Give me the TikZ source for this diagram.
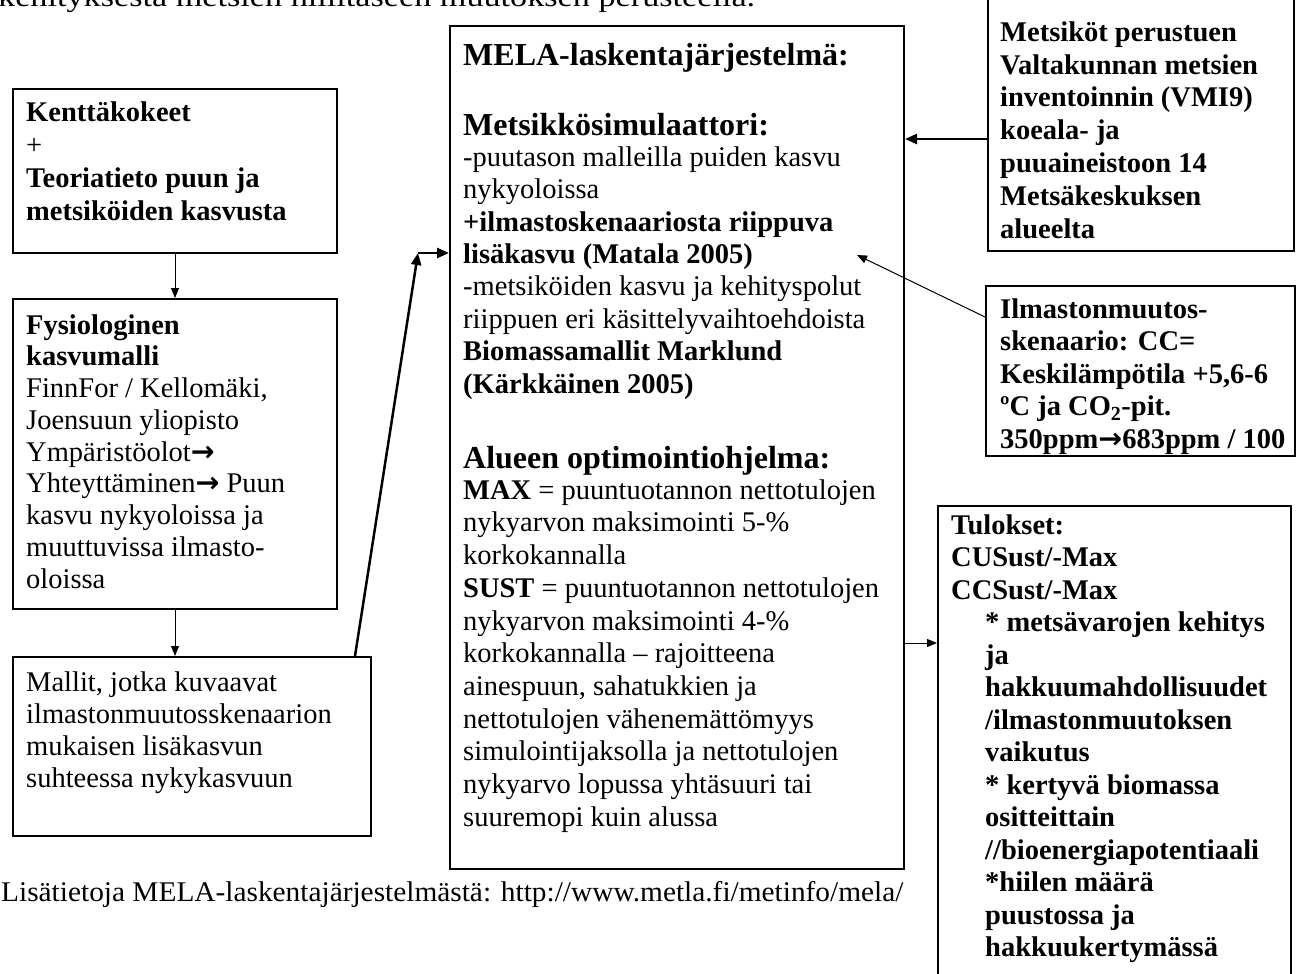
\documentclass[tikz,border=0pt]{standalone}
\usepackage{fontspec}
\setmainfont{Liberation Serif}
\newfontfamily\arrowfont{DejaVu Sans}
\usetikzlibrary{arrows.meta}
\newcommand\rarr{{\arrowfont\bfseries →}}
\newcommand\fst{\rule{0pt}{24pt}}
\begin{document}
\begin{tikzpicture}[x=1pt,y=-1pt,
  box/.style={draw, line width=2pt, anchor=north west, inner sep=0pt},
  txt/.style={anchor=north west, inner sep=0pt, align=left, font=\fontsize{28.5}{32.5}\selectfont},
  head/.style={anchor=north west, inner sep=0pt, align=left, font=\fontsize{32}{35}\selectfont\bfseries},
  thinarr/.style={line width=1pt, -{Triangle[length=10pt,width=8pt]}},
  thickarr/.style={line width=2.5pt, -{Triangle[length=12pt,width=10pt]}}]
\useasboundingbox (0,0) rectangle (1298,974);

% boxes
\node[box, minimum width=324pt, minimum height=164pt] (A) at (12,88) {};
\node[box, minimum width=324pt, minimum height=310pt] (B) at (12,298) {};
\node[box, minimum width=358pt, minimum height=179pt] (C) at (12,656) {};
\node[box, minimum width=454pt, minimum height=843pt] (M) at (449,25) {};
\node[box, minimum width=306pt, minimum height=255pt] (R1) at (987,-5) {};
\node[box, minimum width=309pt, minimum height=170pt] (R2) at (985,285) {};
\node[box, minimum width=353pt, minimum height=480pt] (R3) at (937,505) {};

% texts
\node[anchor=base west, inner sep=0pt, font=\fontsize{28.5}{32.5}\selectfont] (toptext) at (-2,7) {\scalebox{1.2}[1]{kehityksestä metsien hiilitaseen muutoksen perusteella.}};

\node[txt, font=\fontsize{28.5}{33}\selectfont] (Atxt) at (26,97) {\fst\textbf{Kenttäkokeet}\\+\\\textbf{Teoriatieto puun ja}\\\textbf{metsiköiden kasvusta}};

\node[txt, font=\fontsize{28.5}{31.75}\selectfont] (Btxt) at (26,310) {\fst\textbf{Fysiologinen}\\\textbf{kasvumalli}\\FinnFor / Kellomäki,\\Joensuun yliopisto\\Ympäristöolot\rarr\\Yhteyttäminen\rarr{} Puun\\kasvu nykyoloissa ja\\muuttuvissa ilmasto-\\oloissa};

\node[txt, font=\fontsize{28.5}{32}\selectfont] (Ctxt) at (26,667) {\fst Mallit, jotka kuvaavat\\ilmastonmuutosskenaarion\\mukaisen lisäkasvun\\suhteessa nykykasvuun};

\node[head] (M1) at (463,41) {\fst MELA-laskentajärjestelmä:};
\node[head] (M2) at (463,111) {\fst Metsikkösimulaattori:};
\node[txt, font=\fontsize{28.5}{32.4}\selectfont] (M3) at (463,142) {\fst -puutason malleilla puiden kasvu\\nykyoloissa\\\textbf{+ilmastoskenaariosta riippuva}\\\textbf{lisäkasvu (Matala 2005)}\\-metsiköiden kasvu ja kehityspolut\\riippuen eri käsittelyvaihtoehdoista\\\textbf{Biomassamallit Marklund}\\\textbf{(Kärkkäinen 2005)}};
\node[head] (M4) at (463,444) {\fst Alueen optimointiohjelma:};
\node[txt, font=\fontsize{28.5}{32.7}\selectfont] (M5) at (463,475) {\fst\textbf{MAX} = puuntuotannon nettotulojen\\nykyarvon maksimointi 5-\%\\korkokannalla\\\textbf{SUST} = puuntuotannon nettotulojen\\nykyarvon maksimointi 4-\%\\korkokannalla – rajoitteena\\ainespuun, sahatukkien ja\\nettotulojen vähenemättömyys\\simulointijaksolla ja nettotulojen\\nykyarvo lopussa yhtäsuuri tai\\suuremopi kuin alussa};

\node[txt, font=\fontsize{28.5}{32.8}\selectfont\bfseries] (R1txt) at (1000,17) {\fst Metsiköt perustuen\\Valtakunnan metsien\\inventoinnin (VMI9)\\koeala- ja\\puuaineistoon 14\\Metsäkeskuksen\\alueelta};

\node[txt, font=\fontsize{28.5}{32.5}\selectfont\bfseries] (R2txt) at (1000,294) {\fst Ilmastonmuutos-\\skenaario: CC=\\Keskilämpötila +5,6-6\\ºC ja CO\textsubscript{2}-pit.\\350ppm{\arrowfont\bfseries →}683ppm / 100};

\node[txt, font=\fontsize{28.5}{32.5}\selectfont\bfseries] (R3a) at (951,510) {\fst Tulokset:\\CUSust/-Max\\CCSust/-Max};
\node[txt, font=\fontsize{28.5}{32.5}\selectfont\bfseries] (R3b) at (985,607.5) {\fst * metsävarojen kehitys\\ja\\hakkuumahdollisuudet\\/ilmastonmuutoksen\\vaikutus\\* kertyvä biomassa\\ositteittain\\//bioenergiapotentiaali\\*hiilen määrä\\puustossa ja\\hakkuukertymässä};

\node[anchor=base west, inner sep=0pt, font=\fontsize{28.5}{32.5}\selectfont] (note) at (1,901) {\scalebox{1.03}[1]{Lisätietoja MELA-laskentajärjestelmästä: http://www.metla.fi/metinfo/mela/}};

% connectors
\draw[thinarr] (A.south) -- (B.north);
\draw[thinarr] (B.south) -- (B.south |- C.north);
\coordinate (k) at (418,253);
\draw[thickarr] ([xshift=-17pt]C.north east) -- (k);
\draw[thickarr] (k) -- (k -| M.west);
\coordinate (r1) at (950,139);
\draw[thickarr] (R1.west |- r1) -- (M.east |- r1);
\coordinate (r2) at (857,255);
\draw[thinarr] ([yshift=-32pt]R2.north west) -- (r2);
\coordinate (r3) at (920,643);
\draw[thinarr] (M.east |- r3) -- (R3.west |- r3);
\end{tikzpicture}
\end{document}
